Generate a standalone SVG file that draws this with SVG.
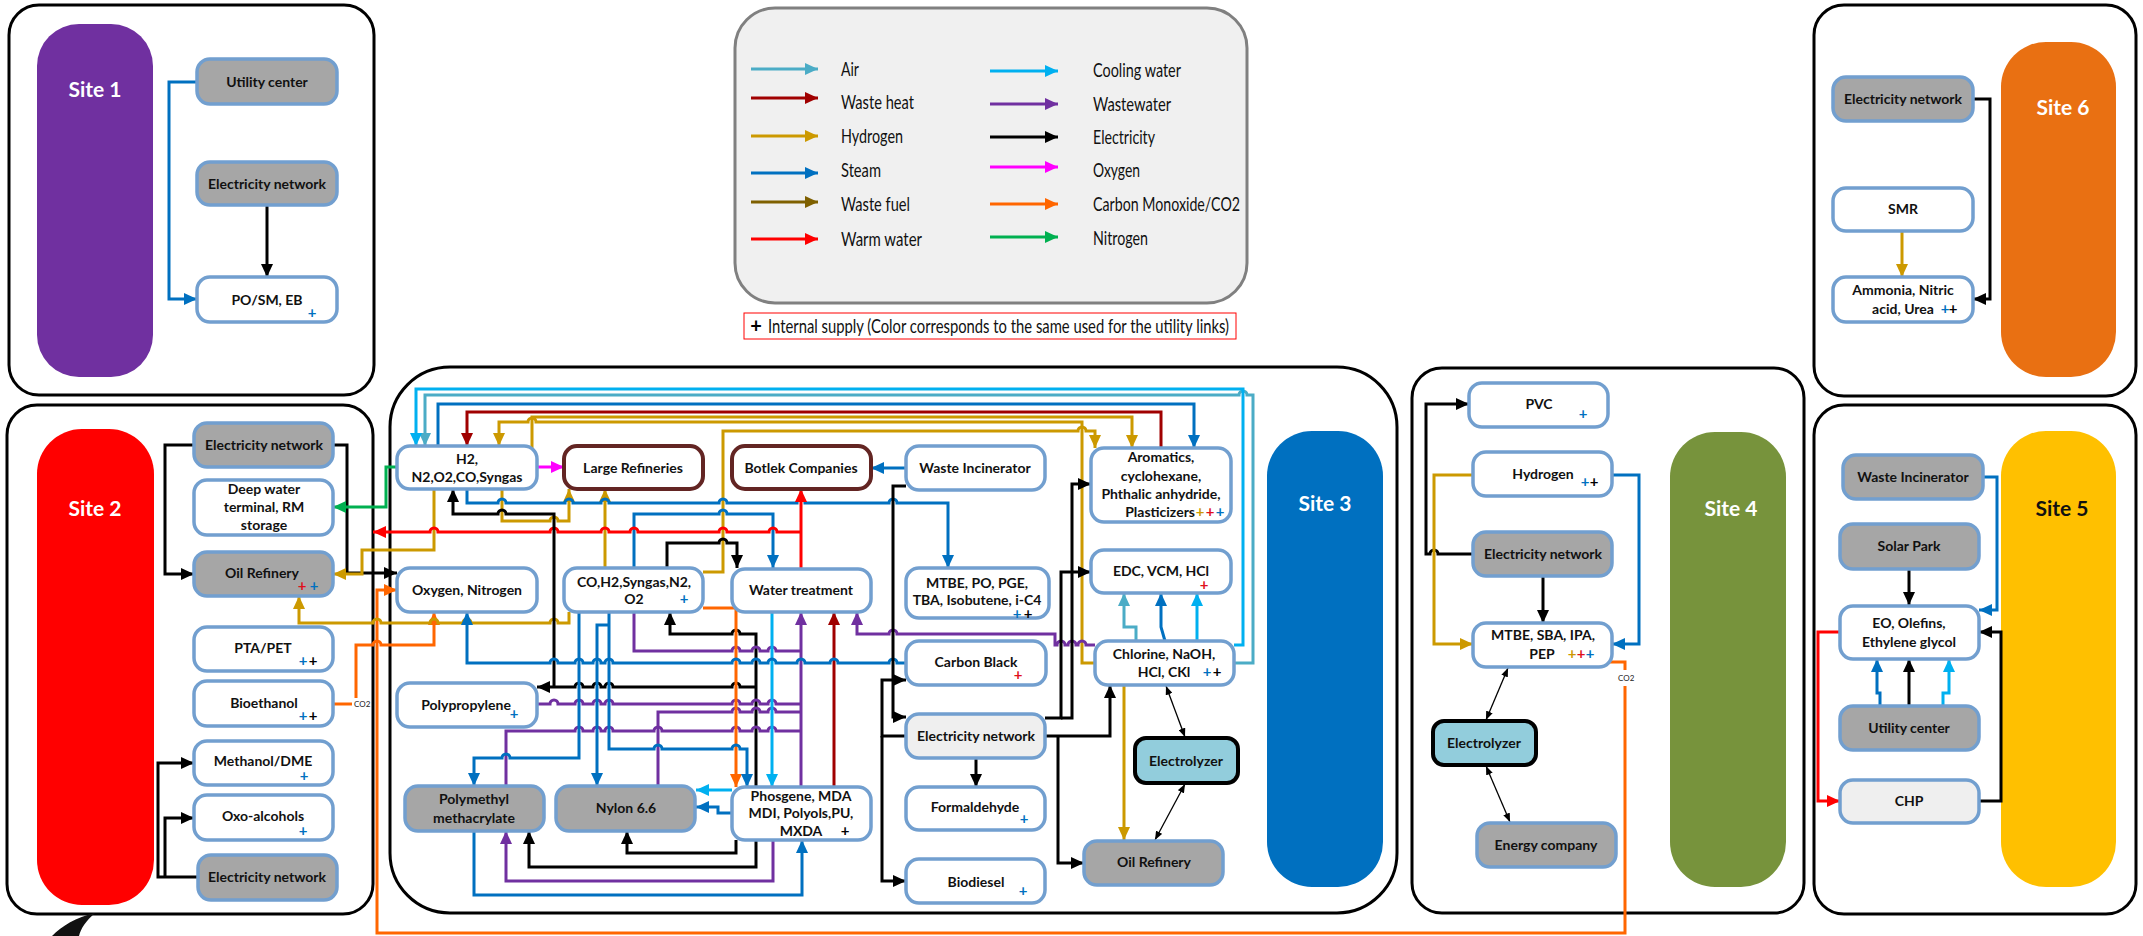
<svg xmlns="http://www.w3.org/2000/svg" width="2143" height="936" viewBox="0 0 2143 936">
<style>
.site{fill:#fff;stroke:#000;stroke-width:3}
.n{stroke:#729fcf;stroke-width:3.5}
.w{fill:#fff}.g{fill:#a6a6a6}.l{fill:#efefef}
.rf{fill:#fff;stroke:#632523;stroke-width:4}
.ez{fill:#92cddc;stroke:#000;stroke-width:4}
text{font-family:Lato,"Open Sans","Liberation Sans",sans-serif}
.t{font-weight:700;font-size:14px;fill:#111;text-anchor:middle}
.sl{font-weight:700;font-size:21px;fill:#fff;text-anchor:middle}
.pl{font-weight:700;font-size:15px;text-anchor:middle}
.lt{font-size:20px;fill:#111}
.sm{font-size:8px;fill:#222}
.pb{fill:#0070c0}.pr{fill:#e0101a}.pk{fill:#000}.pg{fill:#cc9900}
.c{fill:none;stroke-width:3}
.thin{fill:none;stroke:#000;stroke-width:1.3;marker-start:url(#mt);marker-end:url(#mt)}
.air{stroke:#4bacc6}.air.a{marker-end:url(#m-air)}
.wh{stroke:#a00000}.wh.a{marker-end:url(#m-wh)}
.h2{stroke:#cc9900}.h2.a{marker-end:url(#m-h2)}
.st{stroke:#0070c0}.st.a{marker-end:url(#m-st)}
.wf{stroke:#7f6000}.wf.a{marker-end:url(#m-wf)}
.wm{stroke:#ff0000}.wm.a{marker-end:url(#m-wm)}
.cw{stroke:#00b0f0}.cw.a{marker-end:url(#m-cw)}
.ww{stroke:#7030a0}.ww.a{marker-end:url(#m-ww)}
.el{stroke:#000}.el.a{marker-end:url(#m-el)}
.ox{stroke:#ff00ff}.ox.a{marker-end:url(#m-ox)}
.co{stroke:#ff6600}.co.a{marker-end:url(#m-co)}
.ni{stroke:#00b050}.ni.a{marker-end:url(#m-ni)}
</style>
<defs>
<marker id="m-air" viewBox="0 0 13 12" refX="13" refY="6" markerWidth="13" markerHeight="12" markerUnits="userSpaceOnUse" orient="auto"><path d="M0,0L13,6L0,12Z" fill="#4bacc6"/></marker>
<marker id="m-wh" viewBox="0 0 13 12" refX="13" refY="6" markerWidth="13" markerHeight="12" markerUnits="userSpaceOnUse" orient="auto"><path d="M0,0L13,6L0,12Z" fill="#a00000"/></marker>
<marker id="m-h2" viewBox="0 0 13 12" refX="13" refY="6" markerWidth="13" markerHeight="12" markerUnits="userSpaceOnUse" orient="auto"><path d="M0,0L13,6L0,12Z" fill="#cc9900"/></marker>
<marker id="m-st" viewBox="0 0 13 12" refX="13" refY="6" markerWidth="13" markerHeight="12" markerUnits="userSpaceOnUse" orient="auto"><path d="M0,0L13,6L0,12Z" fill="#0070c0"/></marker>
<marker id="m-wf" viewBox="0 0 13 12" refX="13" refY="6" markerWidth="13" markerHeight="12" markerUnits="userSpaceOnUse" orient="auto"><path d="M0,0L13,6L0,12Z" fill="#7f6000"/></marker>
<marker id="m-wm" viewBox="0 0 13 12" refX="13" refY="6" markerWidth="13" markerHeight="12" markerUnits="userSpaceOnUse" orient="auto"><path d="M0,0L13,6L0,12Z" fill="#ff0000"/></marker>
<marker id="m-cw" viewBox="0 0 13 12" refX="13" refY="6" markerWidth="13" markerHeight="12" markerUnits="userSpaceOnUse" orient="auto"><path d="M0,0L13,6L0,12Z" fill="#00b0f0"/></marker>
<marker id="m-ww" viewBox="0 0 13 12" refX="13" refY="6" markerWidth="13" markerHeight="12" markerUnits="userSpaceOnUse" orient="auto"><path d="M0,0L13,6L0,12Z" fill="#7030a0"/></marker>
<marker id="m-el" viewBox="0 0 13 12" refX="13" refY="6" markerWidth="13" markerHeight="12" markerUnits="userSpaceOnUse" orient="auto"><path d="M0,0L13,6L0,12Z" fill="#000"/></marker>
<marker id="m-ox" viewBox="0 0 13 12" refX="13" refY="6" markerWidth="13" markerHeight="12" markerUnits="userSpaceOnUse" orient="auto"><path d="M0,0L13,6L0,12Z" fill="#ff00ff"/></marker>
<marker id="m-co" viewBox="0 0 13 12" refX="13" refY="6" markerWidth="13" markerHeight="12" markerUnits="userSpaceOnUse" orient="auto"><path d="M0,0L13,6L0,12Z" fill="#ff6600"/></marker>
<marker id="m-ni" viewBox="0 0 13 12" refX="13" refY="6" markerWidth="13" markerHeight="12" markerUnits="userSpaceOnUse" orient="auto"><path d="M0,0L13,6L0,12Z" fill="#00b050"/></marker>
<marker id="mt" viewBox="0 0 10 8" refX="10" refY="4" markerWidth="9" markerHeight="7" markerUnits="userSpaceOnUse" orient="auto-start-reverse"><path d="M0,0L10,4L0,8Z" fill="#000"/></marker>
</defs>
<rect width="2143" height="936" fill="#fff"/>

<!-- site frames and coloured site bands -->
<g id="site-frames">
<rect class="site" x="9" y="5" width="365" height="390" rx="30"/>
<rect x="37" y="24" width="116" height="353" rx="42" fill="#7030a0"/>
<text class="sl" x="95" y="97">Site 1</text>
<rect class="site" x="7" y="405" width="366" height="509" rx="30"/>
<rect x="37" y="429" width="117" height="476" rx="45" fill="#ff0000"/>
<text class="sl" x="95" y="516">Site 2</text>
<rect class="site" x="390" y="367" width="1007" height="546" rx="60"/>
<rect x="1267" y="431" width="116" height="456" rx="45" fill="#0070c0"/>
<text class="sl" x="1325" y="511">Site 3</text>
<rect class="site" x="1412" y="368" width="392" height="545" rx="30"/>
<rect x="1670" y="432" width="116" height="455" rx="45" fill="#77933c"/>
<text class="sl" x="1731" y="516">Site 4</text>
<rect class="site" x="1814" y="405" width="322" height="509" rx="30"/>
<rect x="2001" y="431" width="115" height="456" rx="45" fill="#ffc000"/>
<text class="sl" x="2062" y="516" style="fill:#111">Site 5</text>
<rect class="site" x="1814" y="5" width="322" height="391" rx="30"/>
<rect x="2001" y="42" width="115" height="335" rx="45" fill="#e97012"/>
<text class="sl" x="2063" y="115">Site 6</text>
<path d="M52,936C62,926 76,917 95,913C86,921 81,928 79,936Z" fill="#111"/>
</g>

<!-- legend -->
<g id="legend">
<rect x="735" y="8" width="512" height="295" rx="40" fill="#f0f0f0" stroke="#808080" stroke-width="3"/>
<path class="c air a" d="M751,69H818"/>
<path class="c wh a" d="M751,98H818"/>
<path class="c h2 a" d="M751,136H818"/>
<path class="c st a" d="M751,173H818"/>
<path class="c wf a" d="M751,202H818"/>
<path class="c wm a" d="M751,239H818"/>
<path class="c cw a" d="M990,71H1058"/>
<path class="c ww a" d="M990,104H1058"/>
<path class="c el a" d="M990,137H1058"/>
<path class="c ox a" d="M990,167H1058"/>
<path class="c co a" d="M990,204H1058"/>
<path class="c ni a" d="M990,237H1058"/>
<text class="lt" x="841" y="76" textLength="18" lengthAdjust="spacingAndGlyphs">Air</text>
<text class="lt" x="841" y="109" textLength="73" lengthAdjust="spacingAndGlyphs">Waste heat</text>
<text class="lt" x="841" y="143" textLength="62" lengthAdjust="spacingAndGlyphs">Hydrogen</text>
<text class="lt" x="841" y="177" textLength="40" lengthAdjust="spacingAndGlyphs">Steam</text>
<text class="lt" x="841" y="211" textLength="69" lengthAdjust="spacingAndGlyphs">Waste fuel</text>
<text class="lt" x="841" y="246" textLength="81" lengthAdjust="spacingAndGlyphs">Warm water</text>
<text class="lt" x="1093" y="77" textLength="88" lengthAdjust="spacingAndGlyphs">Cooling water</text>
<text class="lt" x="1093" y="111" textLength="78" lengthAdjust="spacingAndGlyphs">Wastewater</text>
<text class="lt" x="1093" y="144" textLength="62" lengthAdjust="spacingAndGlyphs">Electricity</text>
<text class="lt" x="1093" y="177" textLength="47" lengthAdjust="spacingAndGlyphs">Oxygen</text>
<text class="lt" x="1093" y="211" textLength="147" lengthAdjust="spacingAndGlyphs">Carbon Monoxide/CO2</text>
<text class="lt" x="1093" y="245" textLength="55" lengthAdjust="spacingAndGlyphs">Nitrogen</text>
<rect x="744" y="313" width="492" height="26" fill="#fff" stroke="#ff0000" stroke-width="1"/>
<text x="756" y="333" style="font-weight:700;font-size:20px;text-anchor:middle">+</text>
<text class="lt" x="768" y="333" style="font-size:19px" textLength="461" lengthAdjust="spacingAndGlyphs">Internal supply (Color corresponds to the same used for the utility links)</text>
</g>

<!-- utility links -->
<g id="connectors">
<!-- site 1 -->
<path class="c st a" d="M197,82H169V299H197"/>
<path class="c el a" d="M267,205V277"/>
<!-- site 6 -->
<path class="c el a" d="M1973,99H1990V299H1973"/>
<path class="c h2 a" d="M1902,231V277"/>
<!-- site 2 -->
<path class="c el a" d="M194,445H165V574H194"/>
<path class="c el a" d="M198,877H158V763H194"/>
<path class="c el a" d="M165,877V818H194"/>
<path class="c el a" d="M333,445H347V573H397"/>
<path class="c ni a" d="M397,467H386V507H333"/>
<path class="c co" d="M333,704H352"/>
<path class="c co a" d="M356,698V645H373a4,4 0 0 1 8,0H434V612"/>
<path class="c co" d="M1607,662H1625V670"/>
<path class="c co a" d="M1625,686V933H377V590H397"/>
<!-- site 3: top collectors -->
<path class="c air a" d="M1234,663H1253V395H1247a4,4 0 0 0 -8,0H425V446"/>
<path class="c cw a" d="M1234,645H1243V389H416V446"/>
<path class="c st a" d="M438,446V404H1194V448"/>
<path class="c wh a" d="M1161,448V412H467V446"/>
<path class="c h2 a" d="M532,450V417H1132V448"/>
<path class="c h2 a" d="M1095,663H1082V422H536a4,4 0 0 0 -8,0H499V446"/>
<path class="c h2 a" d="M703,572H723V431H1078a4,4 0 0 1 8,0H1095V448"/>
<path class="c h2 a" d="M502,489V521H550a4,4 0 0 1 8,0H569V489"/>
<path class="c h2 a" d="M605,568V489"/>
<path class="c h2 a" d="M434,489V550H362V574H333"/>
<path class="c h2 a" d="M569,612V623H558a4,4 0 0 0 -8,0H471a4,4 0 0 0 -8,0H438a4,4 0 0 0 -8,0H381a4,4 0 0 0 -8,0H299V596"/>
<path class="c ox a" d="M537,467H564"/>
<path class="c st a" d="M467,489V503H498a4,4 0 0 1 8,0H565a4,4 0 0 1 8,0H601a4,4 0 0 1 8,0H719a4,4 0 0 1 8,0H797a4,4 0 0 1 8,0H889a4,4 0 0 1 8,0H948V568"/>
<path class="c st a" d="M634,568V514H719a4,4 0 0 1 8,0H773V568"/>
<path class="c el a" d="M667,568V543H719a4,4 0 0 1 8,0H737V568"/>
<path class="c wm a" d="M801,568V489"/>
<path class="c wm a" d="M801,532H777a4,4 0 0 0 -8,0H727a4,4 0 0 0 -8,0H638a4,4 0 0 0 -8,0H609a4,4 0 0 0 -8,0H558a4,4 0 0 0 -8,0H438a4,4 0 0 0 -8,0H373"/>
<!-- site 3: electricity from phosgene plant -->
<path class="c el a" d="M756,787V634H740a4,4 0 0 0 -8,0H670V612"/>
<path class="c el a" d="M756,687H740a4,4 0 0 0 -8,0H613a4,4 0 0 0 -8,0H601a4,4 0 0 0 -8,0H583a4,4 0 0 0 -8,0H537"/>
<path class="c el a" d="M554,687V514H506a4,4 0 0 0 -8,0H453V489"/>
<path class="c el a" d="M756,840V867H529V831"/>
<path class="c el a" d="M736,840V853H627V831"/>
<!-- site 3: wastewater to water treatment -->
<path class="c ww a" d="M801,787V612"/>
<path class="c ww" d="M634,612V651H732a4,4 0 0 1 8,0H752a4,4 0 0 1 8,0H768a4,4 0 0 1 8,0H801"/>
<path class="c ww" d="M537,704H550a4,4 0 0 1 8,0H575a4,4 0 0 1 8,0H593a4,4 0 0 1 8,0H605a4,4 0 0 1 8,0H732a4,4 0 0 1 8,0H752a4,4 0 0 1 8,0H768a4,4 0 0 1 8,0H801"/>
<path class="c ww" d="M658,786V712H732a4,4 0 0 1 8,0H752a4,4 0 0 1 8,0H768a4,4 0 0 1 8,0H801"/>
<path class="c ww" d="M506,786V731H575a4,4 0 0 1 8,0H593a4,4 0 0 1 8,0H605a4,4 0 0 1 8,0H654a4,4 0 0 1 8,0H732a4,4 0 0 1 8,0H752a4,4 0 0 1 8,0H768a4,4 0 0 1 8,0H801"/>
<path class="c ww a" d="M1095,645H1086a4,4 0 0 0 -8,0H1076a4,4 0 0 0 -8,0H1065a4,4 0 0 0 -8,0H1055V634H897a4,4 0 0 0 -8,0H857V612"/>
<path class="c ww a" d="M773,840V881H506V831"/>
<path class="c wh a" d="M834,787V612"/>
<path class="c cw a" d="M772,612V787"/>
<path class="c co a" d="M703,608H736V787"/>
<!-- site 3: steam network -->
<path class="c st a" d="M579,612V758H510a4,4 0 0 0 -8,0H474V786"/>
<path class="c st a" d="M609,612V749H654a4,4 0 0 1 8,0H732a4,4 0 0 1 8,0H747V787"/>
<path class="c st a" d="M609,625H597V786"/>
<path class="c st a" d="M906,663H897a4,4 0 0 0 -8,0H838a4,4 0 0 0 -8,0H805a4,4 0 0 0 -8,0H776a4,4 0 0 0 -8,0H760a4,4 0 0 0 -8,0H740a4,4 0 0 0 -8,0H613a4,4 0 0 0 -8,0H601a4,4 0 0 0 -8,0H583a4,4 0 0 0 -8,0H558a4,4 0 0 0 -8,0H467V612"/>
<path class="c st a" d="M474,831V895H802V840"/>
<path class="c st a" d="M732,813H718V807H696"/>
<path class="c cw a" d="M732,790H696"/>
<path class="c st a" d="M906,468H871"/>
<!-- site 3: electricity network -->
<path class="c el a" d="M906,486H893V717H906"/>
<path class="c el a" d="M906,736H882V680H906"/>
<path class="c el a" d="M882,736V881H906"/>
<path class="c el a" d="M976,758V787"/>
<path class="c el a" d="M1045,736H1110V685"/>
<path class="c el a" d="M1058,736V863H1084"/>
<path class="c el a" d="M1045,718H1061V572H1091"/>
<path class="c el a" d="M1061,718H1072V484H1091"/>
<!-- site 3: chlor-alkali -->
<path class="c air a" d="M1136,641V627H1124V593"/>
<path class="c st a" d="M1165,641L1161,627V593"/>
<path class="c cw a" d="M1197,641V593"/>
<path class="c h2 a" d="M1124,685V840"/>
<path class="thin" d="M1166,686L1185,737"/>
<path class="thin" d="M1185,784L1155,840"/>
<!-- site 4 -->
<path class="c el a" d="M1473,554H1438a4,4 0 0 0 -8,0H1426V404H1469"/>
<path class="c h2 a" d="M1473,475H1434V644H1473"/>
<path class="c st a" d="M1612,475H1639V644H1612"/>
<path class="c el a" d="M1543,576V623"/>
<path class="thin" d="M1508,668L1486,720"/>
<path class="thin" d="M1486,766L1510,822"/>
<!-- site 5 -->
<path class="c st a" d="M1983,477H1997V610H1979"/>
<path class="c el a" d="M1909,569V605"/>
<path class="c el a" d="M1979,801H2001V632H1979"/>
<path class="c wm a" d="M1840,632H1818V801H1840"/>
<path class="c st a" d="M1880,706V693H1877V659"/>
<path class="c el a" d="M1909,706V659"/>
<path class="c cw a" d="M1943,706V693H1949V659"/>
<text class="sm" x="354" y="707">CO2</text>
<text class="sm" x="1618" y="681">CO2</text>
</g>

<!-- site 1 units -->
<g id="s1-utility"><rect class="n g" x="197" y="59" width="140" height="45" rx="13"/><text class="t" x="267" y="87">Utility center</text></g>
<g id="s1-elec"><rect class="n g" x="197" y="162" width="140" height="43" rx="13"/><text class="t" x="267" y="189">Electricity network</text></g>
<g id="s1-posm"><rect class="n w" x="197" y="277" width="140" height="45" rx="13"/><text class="t" x="267" y="305">PO/SM, EB</text><text class="pl pb" x="312" y="318">+</text></g>

<!-- site 2 units -->
<g id="s2-elec-top"><rect class="n g" x="194" y="423" width="139" height="44" rx="13"/><text class="t" x="264" y="450">Electricity network</text></g>
<g id="s2-terminal"><rect class="n w" x="194" y="480" width="139" height="55" rx="13"/><text class="t" x="264" y="494">Deep water</text><text class="t" x="264" y="512">terminal, RM</text><text class="t" x="264" y="530">storage</text></g>
<g id="s2-refinery"><rect class="n g" x="194" y="552" width="139" height="44" rx="13"/><text class="t" x="262" y="578">Oil Refinery</text><text class="pl pr" x="302" y="591">+</text><text class="pl pb" x="314" y="591">+</text></g>
<g id="s2-pta"><rect class="n w" x="194" y="627" width="139" height="44" rx="13"/><text class="t" x="263" y="653">PTA/PET</text><text class="pl pb" x="303" y="666">+</text><text class="pl pk" x="313" y="666">+</text></g>
<g id="s2-bioethanol"><rect class="n w" x="194" y="681" width="139" height="45" rx="13"/><text class="t" x="264" y="708">Bioethanol</text><text class="pl pb" x="303" y="721">+</text><text class="pl pk" x="313" y="721">+</text></g>
<g id="s2-methanol"><rect class="n w" x="194" y="741" width="139" height="44" rx="13"/><text class="t" x="263" y="766">Methanol/DME</text><text class="pl pb" x="304" y="781">+</text></g>
<g id="s2-oxo"><rect class="n w" x="194" y="795" width="139" height="45" rx="13"/><text class="t" x="263" y="821">Oxo-alcohols</text><text class="pl pb" x="303" y="836">+</text></g>
<g id="s2-elec-bottom"><rect class="n g" x="198" y="855" width="139" height="45" rx="13"/><text class="t" x="267" y="882">Electricity network</text></g>

<!-- site 3 units -->
<g id="s3-gases"><rect class="n w" x="397" y="446" width="140" height="43" rx="13"/><text class="t" x="467" y="464">H2,</text><text class="t" x="467" y="482">N2,O2,CO,Syngas</text></g>
<g id="s3-large-refineries"><rect class="rf" x="564" y="446" width="139" height="43" rx="13"/><text class="t" x="633" y="473">Large Refineries</text></g>
<g id="s3-botlek"><rect class="rf" x="732" y="446" width="139" height="43" rx="13"/><text class="t" x="801" y="473">Botlek Companies</text></g>
<g id="s3-incinerator"><rect class="n w" x="906" y="446" width="139" height="44" rx="13"/><text class="t" x="975" y="473">Waste Incinerator</text></g>
<g id="s3-aromatics"><rect class="n w" x="1091" y="448" width="140" height="74" rx="13"/><text class="t" x="1161" y="462">Aromatics,</text><text class="t" x="1161" y="481">cyclohexane,</text><text class="t" x="1161" y="499">Phthalic anhydride,</text><text class="t" x="1195" y="517" style="text-anchor:end">Plasticizers</text><text class="pl pg" x="1200" y="517">+</text><text class="pl pr" x="1210" y="517">+</text><text class="pl pb" x="1220" y="517">+</text></g>
<g id="s3-edc"><rect class="n w" x="1091" y="550" width="140" height="43" rx="13"/><text class="t" x="1161" y="576">EDC, VCM, HCl</text><text class="pl pr" x="1204" y="590">+</text></g>
<g id="s3-airsep"><rect class="n w" x="397" y="568" width="140" height="44" rx="13"/><text class="t" x="467" y="595">Oxygen, Nitrogen</text></g>
<g id="s3-syngas"><rect class="n w" x="564" y="568" width="139" height="44" rx="13"/><text class="t" x="634" y="587">CO,H2,Syngas,N2,</text><text class="t" x="634" y="604">O2</text><text class="pl pb" x="684" y="604">+</text></g>
<g id="s3-water"><rect class="n w" x="732" y="569" width="139" height="43" rx="13"/><text class="t" x="801" y="595">Water treatment</text></g>
<g id="s3-mtbe"><rect class="n w" x="906" y="568" width="143" height="50" rx="13"/><text class="t" x="977" y="588">MTBE, PO, PGE,</text><text class="t" x="977" y="605">TBA, Isobutene, i-C4</text><text class="pl pb" x="1017" y="619">+</text><text class="pl pk" x="1028" y="619">+</text></g>
<g id="s3-carbon-black"><rect class="n w" x="906" y="641" width="140" height="44" rx="13"/><text class="t" x="976" y="667">Carbon Black</text><text class="pl pr" x="1018" y="680">+</text></g>
<g id="s3-chlorine"><rect class="n w" x="1095" y="641" width="139" height="44" rx="13"/><text class="t" x="1164" y="659">Chlorine, NaOH,</text><text class="t" x="1164" y="677">HCl, CKl</text><text class="pl pb" x="1207" y="677">+</text><text class="pl pk" x="1217" y="677">+</text></g>
<g id="s3-polypropylene"><rect class="n w" x="397" y="683" width="140" height="44" rx="13"/><text class="t" x="466" y="710">Polypropylene</text><text class="pl pb" x="514" y="719">+</text></g>
<g id="s3-elec"><rect class="n l" x="906" y="714" width="139" height="44" rx="13"/><text class="t" x="976" y="741">Electricity network</text></g>
<g id="s3-electrolyzer"><rect class="ez" x="1135" y="738" width="103" height="45" rx="11"/><text class="t" x="1186" y="766">Electrolyzer</text></g>
<g id="s3-formaldehyde"><rect class="n w" x="906" y="787" width="139" height="43" rx="13"/><text class="t" x="975" y="812">Formaldehyde</text><text class="pl pb" x="1024" y="824">+</text></g>
<g id="s3-biodiesel"><rect class="n w" x="906" y="859" width="139" height="44" rx="13"/><text class="t" x="976" y="887">Biodiesel</text><text class="pl pb" x="1023" y="896">+</text></g>
<g id="s3-refinery"><rect class="n g" x="1084" y="841" width="139" height="44" rx="13"/><text class="t" x="1154" y="867">Oil Refinery</text></g>
<g id="s3-phosgene"><rect class="n w" x="732" y="787" width="139" height="53" rx="13"/><text class="t" x="801" y="801">Phosgene, MDA</text><text class="t" x="801" y="818">MDI, Polyols,PU,</text><text class="t" x="801" y="836">MXDA</text><text class="pl pk" x="845" y="836">+</text></g>
<g id="s3-nylon"><rect class="n g" x="556" y="786" width="139" height="45" rx="13"/><text class="t" x="626" y="813">Nylon 6.6</text></g>
<g id="s3-pmma"><rect class="n g" x="405" y="786" width="139" height="45" rx="13"/><text class="t" x="474" y="804">Polymethyl</text><text class="t" x="474" y="823">methacrylate</text></g>

<!-- site 4 units -->
<g id="s4-pvc"><rect class="n w" x="1469" y="383" width="139" height="44" rx="13"/><text class="t" x="1539" y="409">PVC</text><text class="pl pb" x="1583" y="419">+</text></g>
<g id="s4-hydrogen"><rect class="n w" x="1473" y="452" width="139" height="44" rx="13"/><text class="t" x="1543" y="479">Hydrogen</text><text class="pl pb" x="1585" y="487">+</text><text class="pl pk" x="1594" y="487">+</text></g>
<g id="s4-elec"><rect class="n g" x="1473" y="532" width="139" height="44" rx="13"/><text class="t" x="1543" y="559">Electricity network</text></g>
<g id="s4-mtbe"><rect class="n w" x="1473" y="623" width="139" height="44" rx="13"/><text class="t" x="1543" y="640">MTBE, SBA, IPA,</text><text class="t" x="1542" y="659">PEP</text><text class="pl pg" x="1572" y="659">+</text><text class="pl pr" x="1581" y="659">+</text><text class="pl pb" x="1590" y="659">+</text></g>
<g id="s4-electrolyzer"><rect class="ez" x="1433" y="721" width="103" height="44" rx="11"/><text class="t" x="1484" y="748">Electrolyzer</text></g>
<g id="s4-energy"><rect class="n g" x="1477" y="823" width="139" height="44" rx="13"/><text class="t" x="1546" y="850">Energy company</text></g>

<!-- site 5 units -->
<g id="s5-incinerator"><rect class="n g" x="1843" y="455" width="140" height="44" rx="13"/><text class="t" x="1913" y="482">Waste Incinerator</text></g>
<g id="s5-solar"><rect class="n g" x="1840" y="524" width="139" height="45" rx="13"/><text class="t" x="1909" y="551">Solar Park</text></g>
<g id="s5-eo"><rect class="n w" x="1840" y="606" width="139" height="53" rx="13"/><text class="t" x="1909" y="628">EO, Olefins,</text><text class="t" x="1909" y="647">Ethylene glycol</text></g>
<g id="s5-utility"><rect class="n g" x="1840" y="706" width="139" height="44" rx="13"/><text class="t" x="1909" y="733">Utility center</text></g>
<g id="s5-chp"><rect class="n l" x="1840" y="780" width="139" height="43" rx="13"/><text class="t" x="1909" y="806">CHP</text></g>

<!-- site 6 units -->
<g id="s6-elec"><rect class="n g" x="1833" y="77" width="140" height="44" rx="13"/><text class="t" x="1903" y="104">Electricity network</text></g>
<g id="s6-smr"><rect class="n w" x="1833" y="188" width="140" height="43" rx="13"/><text class="t" x="1903" y="214">SMR</text></g>
<g id="s6-ammonia"><rect class="n w" x="1833" y="277" width="140" height="45" rx="13"/><text class="t" x="1903" y="295">Ammonia, Nitric</text><text class="t" x="1903" y="314">acid, Urea</text><text class="pl pb" x="1945" y="314">+</text><text class="pl pk" x="1953" y="314">+</text></g>
</svg>
